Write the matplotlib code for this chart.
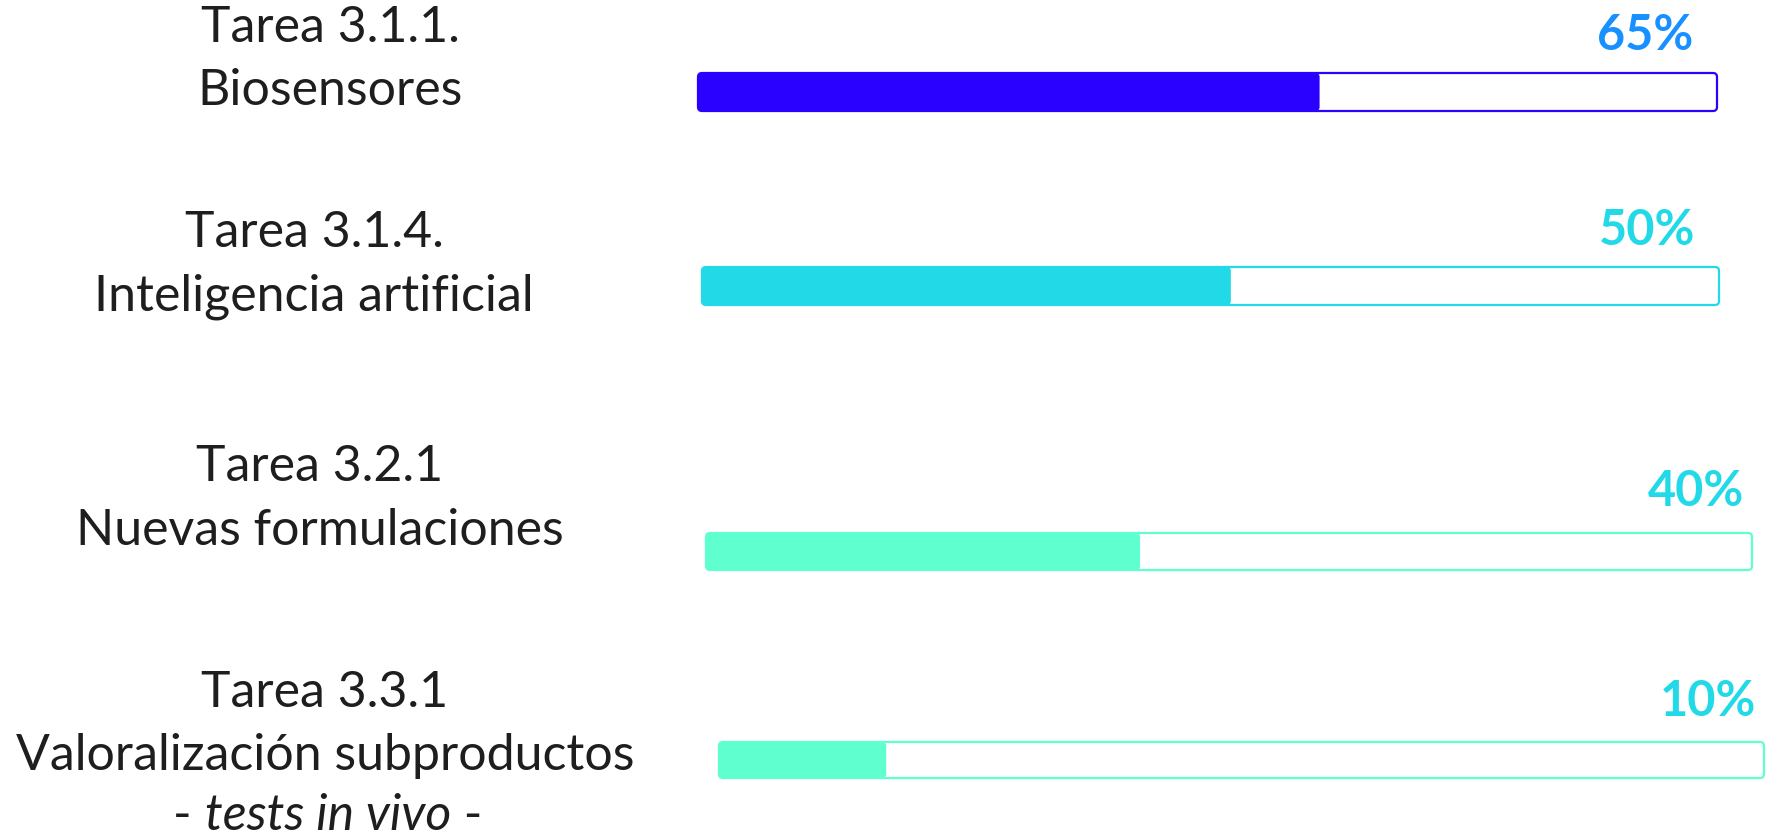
import matplotlib.pyplot as plt
from matplotlib.patches import FancyBboxPatch

W, H = 1772, 839

tasks = ["Tarea 3.1.1.", "Tarea 3.1.4.", "Tarea 3.2.1", "Tarea 3.3.1"]
names = ["Biosensores", "Inteligencia artificial", "Nuevas formulaciones",
         "Valoralización subproductos"]
progress = [65, 50, 40, 10]       # numbers printed above the bars
filled = [61, 52, 41.5, 16]       # how far each fill reaches in the picture
bar_colors = ["#2a00ff", "#22d9e8", "#60ffd0", "#60ffd0"]
label_colors = ["#1890ff", "#22d9e8", "#22d9e8", "#22d9e8"]

# layout in pixels (left, right, top, bottom) of each bar
boxes = [(698, 1717, 73, 111), (702, 1719, 267, 305),
         (706, 1752, 533, 570), (719, 1764, 742, 778)]
# left text: x center and y of each line
text_x = [330, 314, 320, 325]
text_y = [(28, 91), (233, 297), (467, 531), (693, 756)]
pct_offset = [(-72, 38), (-72, 37), (-56, 41), (-56, 41)]

plt.rcParams["font.family"] = ["Lato", "DejaVu Sans"]

fig = plt.figure(figsize=(W / 100, H / 100), dpi=100)
base = fig.add_axes([0, 0, 1, 1])
base.set_xlim(0, W)
base.set_ylim(H, 0)
base.axis("off")

fs = 36

for i in range(len(tasks)):
    l, r, t, b = boxes[i]
    ax = fig.add_axes([l / W, 1 - b / H, (r - l) / W, (b - t) / H])
    ax.set_xlim(0, 100)
    ax.set_ylim(0, 1)
    ax.axis("off")

    # corner radius about 4 px, corrected for the axes aspect
    rx = 4 * 100 / (r - l)
    aspect = (1 / (b - t)) / (100 / (r - l))
    style = f"round,pad=0,rounding_size={rx:.3f}"

    outline = FancyBboxPatch((0, 0), 100, 1, boxstyle=style, mutation_aspect=aspect,
                             fc="white", ec=bar_colors[i], lw=1.6, clip_on=False)
    ax.add_patch(outline)
    fill = FancyBboxPatch((0, 0), filled[i], 1, boxstyle=style, mutation_aspect=aspect,
                          fc=bar_colors[i], ec="none", clip_on=False)
    ax.add_patch(fill)

    ax.annotate(f"{progress[i]}%", xy=(100, 1), xytext=pct_offset[i],
                textcoords="offset pixels", ha="center", va="center",
                fontsize=35, fontweight="bold", color=label_colors[i])

    y1, y2 = text_y[i]
    base.text(text_x[i], y1, tasks[i], ha="center", va="center",
              fontsize=fs, color="#1e1e1e")
    base.text(text_x[i], y2, names[i], ha="center", va="center",
              fontsize=fs, color="#1e1e1e")

# extra italic line under the last task
t = base.text(328, 816, "tests in vivo", ha="center", va="center",
              fontsize=fs, style="italic", color="#1e1e1e")
base.annotate("- ", xy=(0, 0.5), xycoords=t, ha="right", va="center",
              fontsize=fs, color="#1e1e1e")
base.annotate(" -", xy=(1, 0.5), xycoords=t, ha="left", va="center",
              fontsize=fs, color="#1e1e1e")

fig.savefig("out.png", dpi=100)
